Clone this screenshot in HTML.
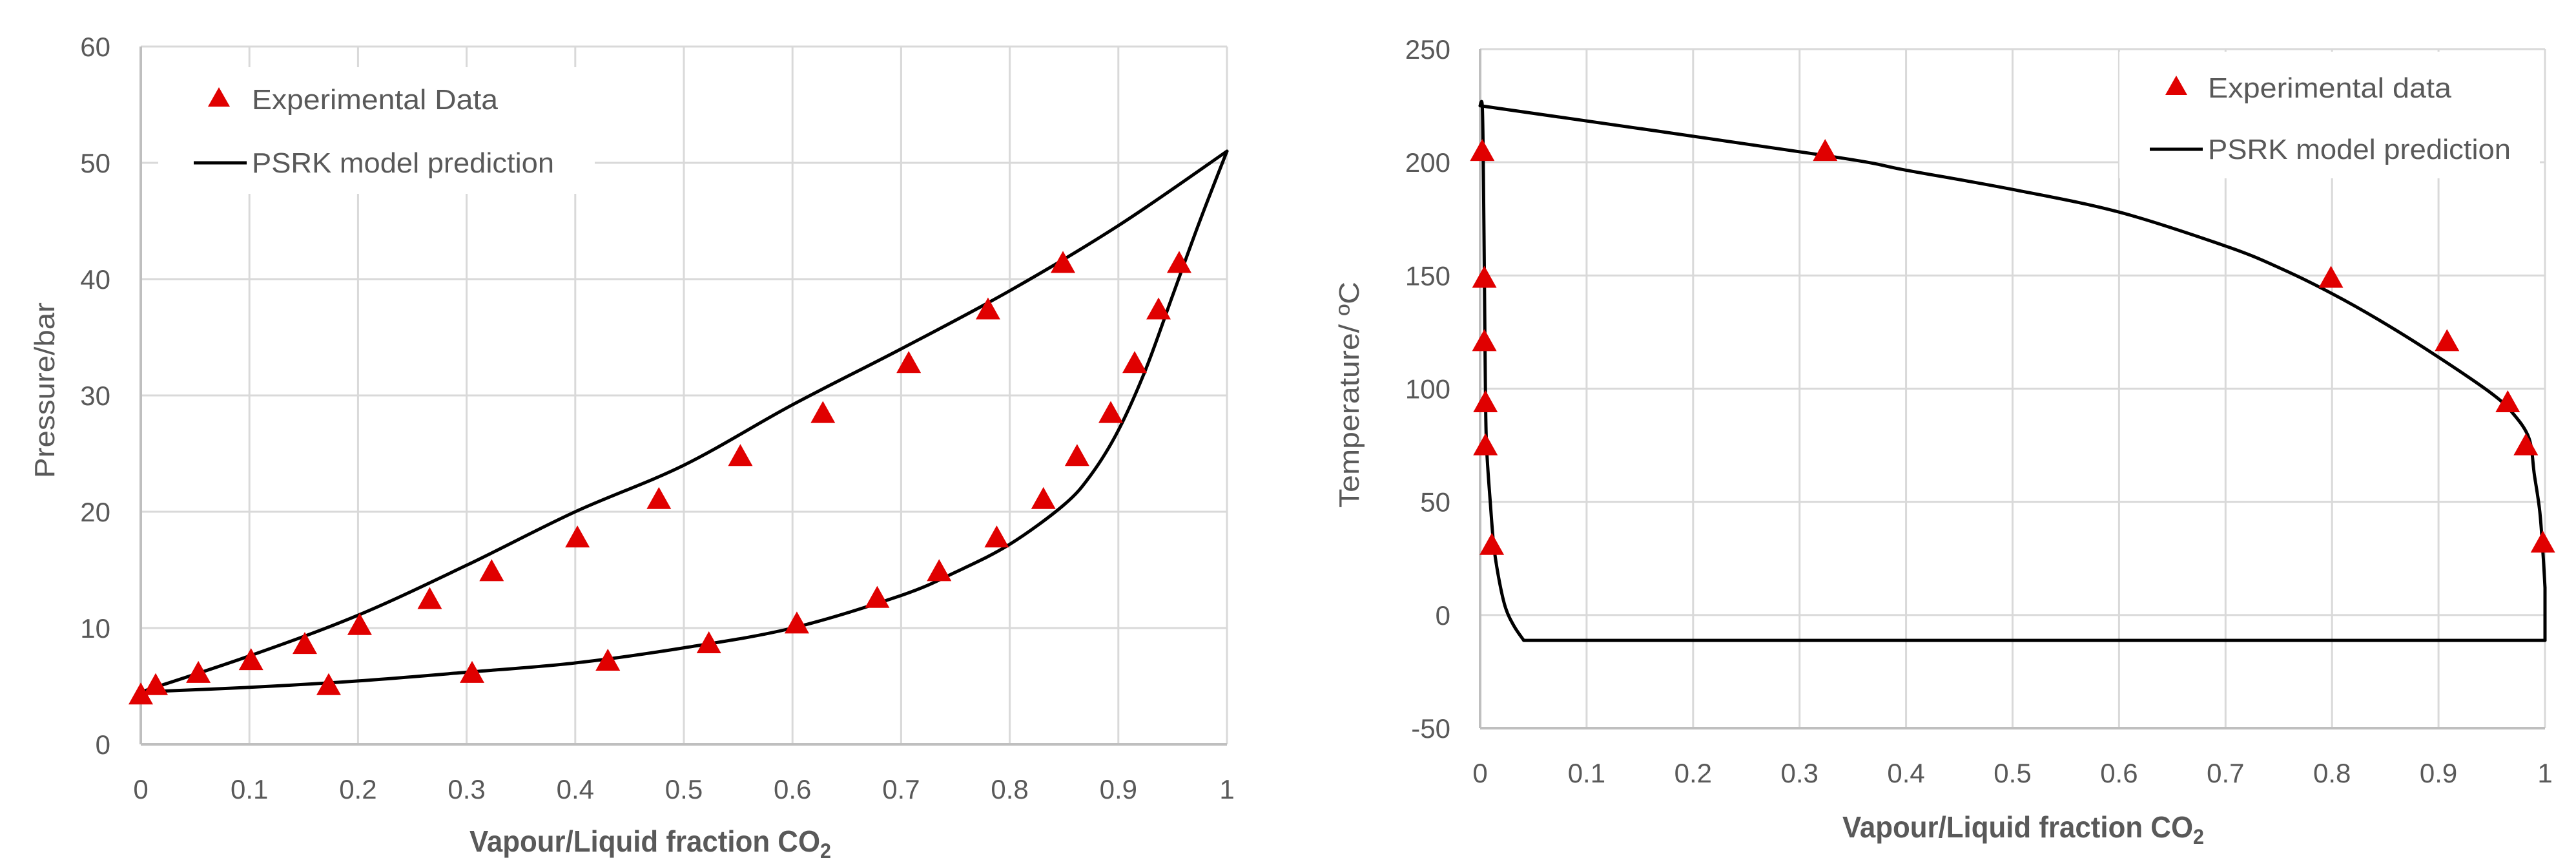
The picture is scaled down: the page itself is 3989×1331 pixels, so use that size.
<!DOCTYPE html>
<html><head><meta charset="utf-8">
<style>
html,body{margin:0;padding:0;background:#fff;}
svg{display:block;}
text{font-family:"Liberation Sans",Arial,sans-serif;fill:#595959;}
</style></head>
<body>
<svg id="fig" width="3989" height="1331" viewBox="0 0 3989 1331" xmlns="http://www.w3.org/2000/svg">
<g id="left"></g>
<g id="right"></g>
</svg>
<script>
// ---- Left chart data (Pressure vs fraction) ----
const leftExpX = [0,0.0137,0.053,0.1015,0.151,0.173,0.2015,0.266,0.305,0.323,0.402,0.430,0.477,0.552,0.628,0.707,0.780,0.849,0.523,0.604,0.678,0.735,0.788,0.831,0.862,0.893,0.915,0.937,0.956];
const leftExpY = [4.1,4.9,5.95,7.05,8.44,4.9,10.07,12.3,5.95,14.7,17.6,7.0,20.9,24.6,28.3,32.6,37.2,41.2,8.5,10.2,12.4,14.7,17.6,20.9,24.6,28.3,32.6,37.2,41.2];
const leftUpperX = [0,0.1,0.2,0.3,0.4,0.5,0.6,0.7,0.8,0.9,1];
const leftUpperY = [4.5,7.6,11.1,15.4,20.0,24.0,29.2,34.0,39.0,44.6,51.0];
const leftLowerX = [0,0.1,0.2,0.3,0.4,0.5,0.6,0.7,0.75,0.8,0.85,0.875,0.9,0.925,0.95,0.975,1];
const leftLowerY = [4.5,4.9,5.45,6.2,7.0,8.3,10.0,12.8,14.8,17.2,20.6,23.2,27.0,32.2,38.6,45.0,51.0];
const leftXTicks = ["0","0.1","0.2","0.3","0.4","0.5","0.6","0.7","0.8","0.9","1"];
const leftYTicks = ["0","10","20","30","40","50","60"];

// ---- Right chart data (Temperature vs fraction) ----
const rightExpX = [0.002,0.004,0.004,0.005,0.005,0.011,0.324,0.799,0.908,0.965,0.982,0.998];
const rightExpY = [204,148,120,93,74,30,204,148,120,93,74,31];
const rightLiqX = [0,0.002,0.003,0.004,0.005,0.006,0.0095,0.013,0.018,0.024,0.032,0.041];
const rightLiqY = [225,225,200,150,100,75,50,30,15,3,-5,-11.2];
const rightFlatX = [0.041,1];
const rightFlatY = [-11.2,-11.2];
const rightVapX = [0,0.324,0.4,0.5,0.6,0.7,0.75,0.8,0.85,0.9,0.95,0.97,0.985,0.99,0.995,0.998,1.0];
const rightVapY = [225,203,196.5,188,178,163,153.5,142,128.7,113.9,97.8,89,78,62,46,28,12];
const rightDropX = [1.0,1.0];
const rightDropY = [12,-11.2];
const rightXTicks = ["0","0.1","0.2","0.3","0.4","0.5","0.6","0.7","0.8","0.9","1"];
const rightYTicks = ["-50","0","50","100","150","200","250"];

const NS = "http://www.w3.org/2000/svg";
function mk(tag, attrs, parent){const e=document.createElementNS(NS,tag);for(const k in attrs)e.setAttribute(k,attrs[k]);parent.appendChild(e);return e;}

function smoothPath(pts){
  let d="M"+pts[0][0].toFixed(1)+","+pts[0][1].toFixed(1);
  for(let i=0;i<pts.length-1;i++){
    const p0=pts[i-1]||pts[i], p1=pts[i], p2=pts[i+1], p3=pts[i+2]||p2;
    const c1=[p1[0]+(p2[0]-p0[0])/6, p1[1]+(p2[1]-p0[1])/6];
    const c2=[p2[0]-(p3[0]-p1[0])/6, p2[1]-(p3[1]-p1[1])/6];
    d+=` C${c1[0].toFixed(1)},${c1[1].toFixed(1)} ${c2[0].toFixed(1)},${c2[1].toFixed(1)} ${p2[0].toFixed(1)},${p2[1].toFixed(1)}`;
  }
  return d;
}

function drawChart(g, cfg){
  const sx = v => cfg.x0 + (v - cfg.xmin)/(cfg.xmax - cfg.xmin)*(cfg.x1 - cfg.x0);
  const sy = v => cfg.y0 - (v - cfg.ymin)/(cfg.ymax - cfg.ymin)*(cfg.y0 - cfg.y1);
  cfg.xTicks.forEach(t=>{
    const v=parseFloat(t);
    const l=mk("line",{x1:sx(v),x2:sx(v),y1:cfg.y1,y2:cfg.y0,stroke:"#d9d9d9","stroke-width":3},g);
    
    
    const tx=mk("text",{x:sx(v),y:cfg.y0+84,"font-size":42,"text-anchor":"middle"},g);
    tx.textContent=t;
    
    
  });
  cfg.yTicks.forEach(t=>{
    const v=parseFloat(t);
    const l=mk("line",{x1:cfg.x0,x2:cfg.x1,y1:sy(v),y2:sy(v),stroke:"#d9d9d9","stroke-width":3},g);
    
    
    const tx=mk("text",{x:cfg.ylabX,y:sy(v)+15,"font-size":42,"text-anchor":"end"},g);
    tx.textContent=t;
    
    
  });
  const ax=mk("line",{x1:cfg.x0,x2:cfg.x1,y1:cfg.y0,y2:cfg.y0,stroke:"#bfbfbf","stroke-width":4},g);
  
  
  const ay=mk("line",{x1:cfg.x0,x2:cfg.x0,y1:cfg.y1,y2:cfg.y0,stroke:"#bfbfbf","stroke-width":4},g);
  
  
  const lb=mk("rect",{x:cfg.leg.x,y:cfg.leg.y,width:cfg.leg.w,height:cfg.leg.h,fill:"#fff"},g);
  
  
  cfg.lines.forEach(([xs,ys,smooth])=>{
    const pts=xs.map((x,i)=>[sx(x),sy(ys[i])]);
    const d=smooth?smoothPath(pts):pts.map((p,i)=>(i?"L":"M")+p[0].toFixed(1)+","+p[1].toFixed(1)).join(" ");
    const p=mk("path",{d:d,fill:"none",stroke:"#000","stroke-width":5,"stroke-linejoin":"round","stroke-linecap":"round"},g);
    
    
  });
  cfg.expX.forEach((x,i)=>{
    const cx=sx(x), cy=sy(cfg.expY[i]);
    const t=mk("polygon",{points:`${cx},${cy-22} ${cx+19},${cy+12} ${cx-19},${cy+12}`,fill:"#e00000"},g);
    
    
  });
  const L=cfg.leg;
  const tri=mk("polygon",{points:`${L.mx},${L.r1-19} ${L.mx+17},${L.r1+11} ${L.mx-17},${L.r1+11}`,fill:"#e00000"},g);
  
  
  const t1=mk("text",{x:L.tx,y:L.r1+15,"font-size":44,textLength:L.w1,lengthAdjust:"spacingAndGlyphs"},g);
  t1.textContent=L.label1;
  
  
  const ll=mk("line",{x1:L.lx1,x2:L.lx2,y1:L.r2,y2:L.r2,stroke:"#000","stroke-width":5},g);
  
  
  const t2=mk("text",{x:L.tx,y:L.r2+15,"font-size":44,textLength:L.w2,lengthAdjust:"spacingAndGlyphs"},g);
  t2.textContent="PSRK model prediction";
  
  
  const xt=mk("text",{x:cfg.xtX,y:cfg.xtY,"font-size":46,"font-weight":"bold",textLength:cfg.xtW,lengthAdjust:"spacingAndGlyphs"},g);
  xt.innerHTML='Vapour/Liquid fraction CO<tspan font-size="32" dy="10">2</tspan>';
  
  
  const yt=mk("text",{x:0,y:0,"font-size":44,"text-anchor":"middle",transform:`translate(${cfg.ytX},${cfg.ytY}) rotate(-90)`,textLength:cfg.ytW,lengthAdjust:"spacingAndGlyphs"},g);
  yt.textContent=cfg.ytText;
  
  
}

drawChart(document.getElementById('left'),{
  x0:218,x1:1900,y0:1152,y1:72,xmin:0,xmax:1,ymin:0,ymax:60,
  xTicks:leftXTicks,yTicks:leftYTicks,ylabX:171,
  leg:{x:245,y:104,w:676,h:196,mx:339,r1:154,r2:252,tx:390,w1:381,w2:468,lx1:300,lx2:382,label1:"Experimental Data"},
  lines:[[leftUpperX,leftUpperY,true],[leftLowerX,leftLowerY,true]],
  expX:leftExpX,expY:leftExpY,
  xtX:727,xtY:1318,xtW:560,ytX:84,ytY:604,ytW:272,ytText:"Pressure/bar"
});
drawChart(document.getElementById('right'),{
  x0:2292,x1:3941,y0:1127,y1:76,xmin:0,xmax:1,ymin:-50,ymax:250,
  xTicks:rightXTicks,yTicks:rightYTicks,ylabX:2246,
  leg:{x:3282,y:80,w:651,h:196,mx:3370,r1:136,r2:231,tx:3419,w1:377,w2:469,lx1:3329,lx2:3411,label1:"Experimental data"},
  lines:[[rightLiqX,rightLiqY,true],[rightFlatX,rightFlatY,false],[rightVapX,rightVapY,true],[rightDropX,rightDropY,false]],
  expX:rightExpX,expY:rightExpY,
  xtX:2853,xtY:1296,xtW:560,ytX:2104,ytY:611,ytW:350,ytText:"Temperature/ ºC"
});
</script>
</body></html>
